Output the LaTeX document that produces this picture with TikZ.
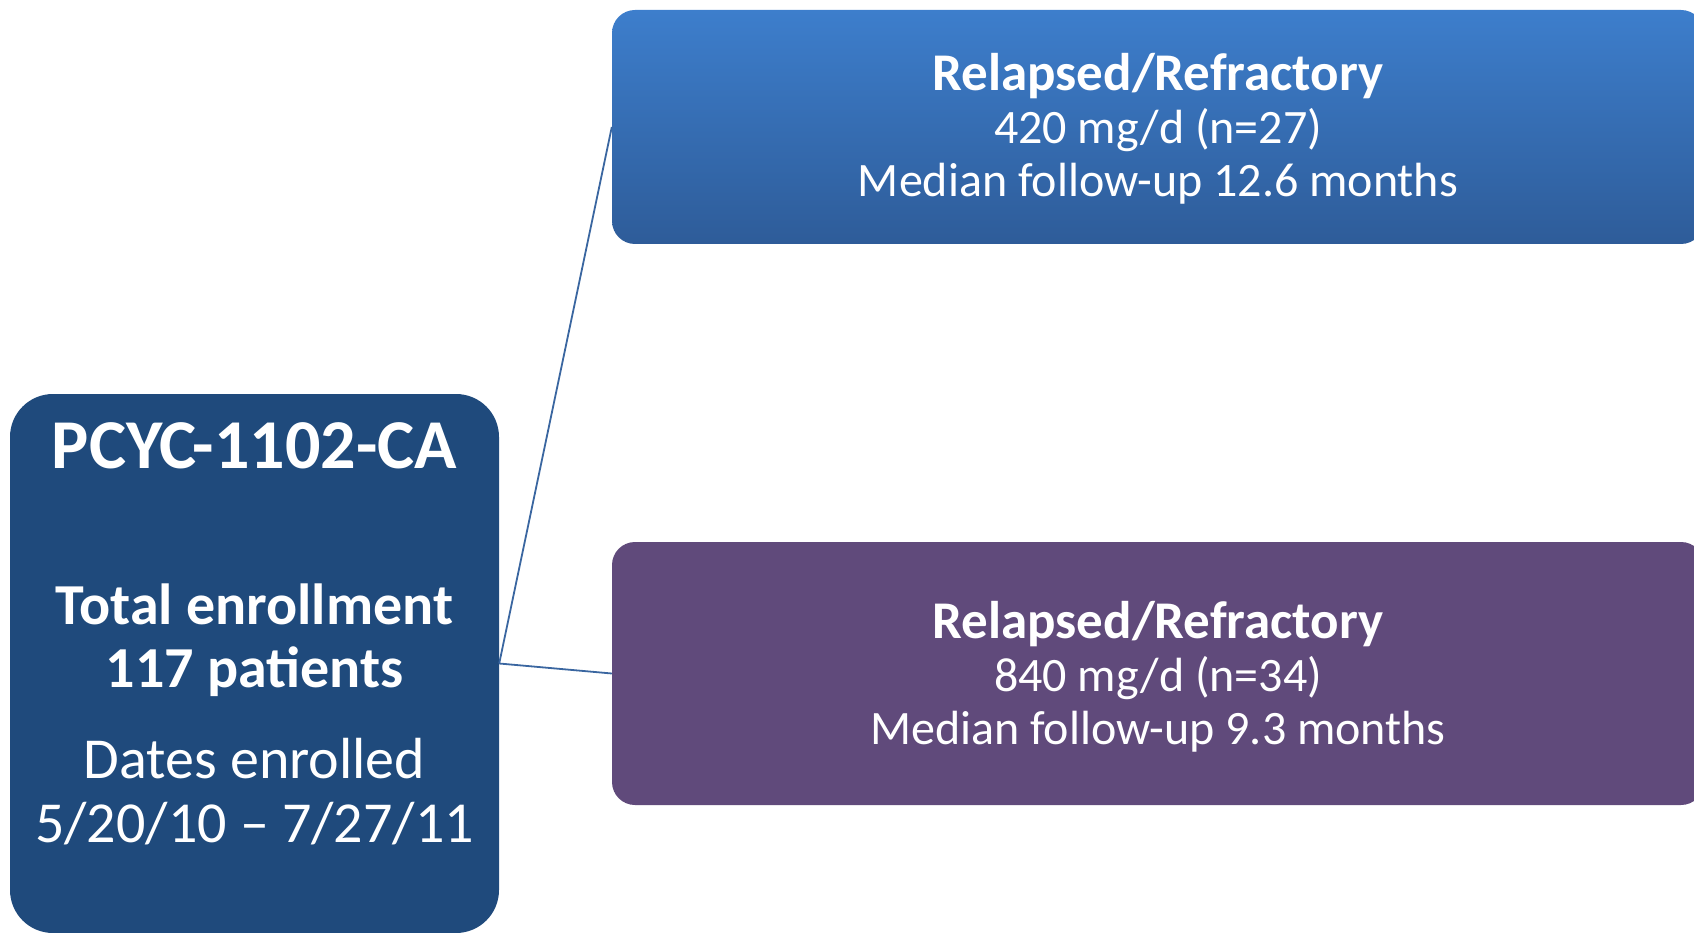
\documentclass[tikz,border=0pt]{standalone}
\usepackage{fontspec}
\setmainfont{Carlito}
\usetikzlibrary{positioning}

\definecolor{studyblue}{RGB}{31,74,124}
\definecolor{armtop}{RGB}{61,126,204}
\definecolor{armbottom}{RGB}{46,92,153}
\definecolor{armpurple}{RGB}{96,74,123}
\definecolor{linkblue}{RGB}{58,102,160}

\begin{document}
\begin{tikzpicture}[x=1pt, y=-1pt,
        box/.style={rounded corners=23pt, inner sep=0pt},
        boxtext/.style={text=white, anchor=base, inner sep=0pt},
        link/.style={draw=linkblue, line width=1.8pt}]
        \useasboundingbox (0, 0) rectangle (1694, 933);
        \clip (0, 0) rectangle (1694, 933);

        \node[box, rounded corners=43pt, fill=studyblue, minimum width=489pt, minimum height=539pt] (study) at (254.5, 663.5) {};
        \node[box, top color=armtop, bottom color=armbottom, minimum width=1092pt, minimum height=234pt] (arm420) at (1158, 127) {};
        \node[box, fill=armpurple, minimum width=1092pt, minimum height=263pt] (arm840) at (1158, 673.5) {};

        \draw[link] (study.east) -- (arm420.west);
        \draw[link] (study.east) -- (arm840.west);

        \node[boxtext, font=\bfseries\fontsize{70}{76}\selectfont] (studyname) at ([yshift=-75pt]study.north) {PCYC-1102-CA};
        \node[boxtext, font=\bfseries\fontsize{58}{64}\selectfont] (total) at ([yshift=-231pt]study.north) {Total enrollment};
        \node[boxtext, font=\bfseries\fontsize{58}{64}\selectfont] (patients) at ([yshift=-294pt]study.north) {117 patients};
        \node[boxtext, font=\fontsize{58}{64}\selectfont] (dates) at ([yshift=-385pt]study.north) {Dates enrolled};
        \node[boxtext, font=\fontsize{58}{64}\selectfont] (period) at ([yshift=-449pt]study.north) {5/20/10 – 7/27/11};

        \node[boxtext, font=\bfseries\fontsize{53}{58}\selectfont] (title420) at ([yshift=-81pt]arm420.north) {Relapsed/Refractory};
        \node[boxtext, font=\fontsize{48}{53}\selectfont] (dose420) at ([yshift=-134pt]arm420.north) {420 mg/d (n=27)};
        \node[boxtext, font=\fontsize{48}{53}\selectfont] (follow420) at ([yshift=-187pt]arm420.north) {Median follow-up 12.6 months};

        \node[boxtext, font=\bfseries\fontsize{53}{58}\selectfont] (title840) at ([yshift=-97pt]arm840.north) {Relapsed/Refractory};
        \node[boxtext, font=\fontsize{48}{53}\selectfont] (dose840) at ([yshift=-150pt]arm840.north) {840 mg/d (n=34)};
        \node[boxtext, font=\fontsize{48}{53}\selectfont] (follow840) at ([yshift=-203pt]arm840.north) {Median follow-up 9.3 months};
\end{tikzpicture}
\end{document}
